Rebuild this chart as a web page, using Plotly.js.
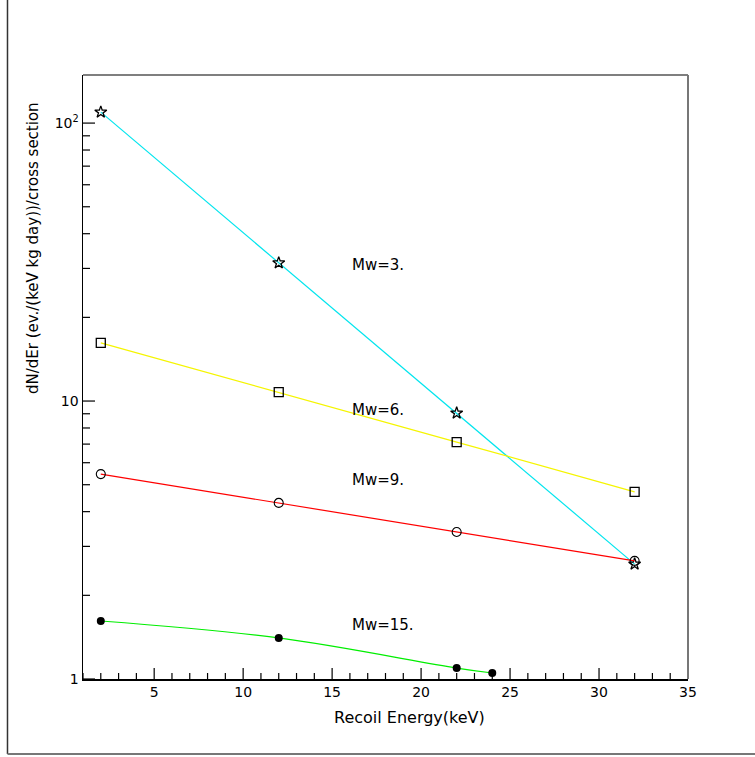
<!DOCTYPE html>
<html>
<head>
<meta charset="utf-8">
<script src="https://cdn.plot.ly/plotly-3.0.1.min.js"></script>
<style>html,body{margin:0;padding:0;background:#fff;}#chart{width:755px;height:757px;}</style>
</head>
<body>
<div id="chart"></div>
<script>
const energy = [2, 12, 22, 32];
const mw3 = [109.5, 31.4, 9.05, 2.59];
const mw6 = [16.2, 10.77, 7.12, 4.71];
const mw9 = [5.46, 4.30, 3.38, 2.66];
const energy15 = [2, 12, 22, 24];
const mw15 = [1.617, 1.405, 1.095, 1.051];
const labels = ["Mw=3.", "Mw=6.", "Mw=9.", "Mw=15."];
const labelX = [16, 16, 16, 16];
const labelY = [30.9, 9.3, 5.2, 1.56];
const xTickVals = [5, 10, 15, 20, 25, 30, 35];
const yTickVals = [1, 10, 100];
const yTickText = ["1", "10", "10<sup>2</sup>"];

const F = "DejaVu Sans, sans-serif";
const X_RANGE = [1, 35];
const Y_LOG_RANGE = [0, 2.173];
const PLOT_W = 755 - 83 - 67, PLOT_H = 757 - 75 - 78;

// inside tick marks built as a line trace (axis decoration, not data)
const tx = [], ty = [];
const dxPerPx = (X_RANGE[1] - X_RANGE[0]) / PLOT_W;
const dlogPerPx = (Y_LOG_RANGE[1] - Y_LOG_RANGE[0]) / PLOT_H;
for (let v = Math.ceil(X_RANGE[0]); v <= X_RANGE[1]; v++) {
  const len = (v % 5 === 0) ? 11 : 6;
  tx.push(v, v, null);
  ty.push(Math.pow(10, Y_LOG_RANGE[0]), Math.pow(10, Y_LOG_RANGE[0] + len * dlogPerPx), null);
}
for (let dec = 1; dec <= 100; dec *= 10) {
  for (let m = 1; m <= 9; m++) {
    const val = dec * m;
    if (Math.log10(val) > Y_LOG_RANGE[1] + 1e-9) continue;
    const len = (m === 1) ? 12 : 7;
    tx.push(X_RANGE[0], X_RANGE[0] + len * dxPerPx, null);
    ty.push(val, val, null);
  }
}

const traces = [
  {x: tx, y: ty, mode: "lines", line: {color: "black", width: 1.2}, hoverinfo: "skip", connectgaps: false},
  {x: energy, y: mw3, mode: "lines+markers", line: {color: "#00e5ee", width: 1.2},
   marker: {symbol: "star-open", size: 9, color: "black", line: {width: 1.3}}},
  {x: energy, y: mw6, mode: "lines+markers", line: {color: "#f5f500", width: 1.2},
   marker: {symbol: "square-open", size: 9, color: "black", line: {width: 1.3}}},
  {x: energy, y: mw9, mode: "lines+markers", line: {color: "#ff0000", width: 1.2},
   marker: {symbol: "circle-open", size: 9, color: "black", line: {width: 1.1}}},
  {x: energy15, y: mw15, mode: "lines+markers", line: {color: "#00ee00", width: 1.2, shape: "spline"},
   marker: {symbol: "circle", size: 8, color: "black"}}
];

const annotations = labels.map((t, i) => ({
  x: labelX[i], y: Math.log10(labelY[i]), xref: "x", yref: "y", text: t,
  showarrow: false, xanchor: "left", yanchor: "middle",
  font: {family: F, size: 15, color: "black"}
}));
annotations.push({
  x: 19.37, y: -0.063, xref: "x", yref: "paper", text: "Recoil Energy(keV)",
  showarrow: false, xanchor: "center", yanchor: "middle",
  font: {family: F, size: 16, color: "black"}
});
annotations.push({
  x: -0.0826, y: 0.7136, xref: "paper", yref: "paper", textangle: -90,
  text: "dN/dEr (ev./(keV kg day))/cross section",
  showarrow: false, xanchor: "center", yanchor: "middle",
  font: {family: F, size: 15, color: "black"}
});

const shapes = [
  {type: "line", xref: "paper", yref: "paper", x0: 0, x1: 1, y0: 1, y1: 1, line: {color: "#555", width: 1.5}},
  {type: "line", xref: "paper", yref: "paper", x0: 1, x1: 1, y0: 0, y1: 1, line: {color: "#777", width: 2}},
  {type: "line", xref: "paper", yref: "paper", x0: -0.1248, x1: -0.1248, y0: -0.1242, y1: 1.13, line: {color: "#333", width: 1.5}},
  {type: "line", xref: "paper", yref: "paper", x0: -0.1248, x1: 1.12, y0: -0.1242, y1: -0.1242, line: {color: "#777", width: 2}}
];

const layout = {
  width: 755, height: 757,
  margin: {l: 83, r: 67, t: 75, b: 78},
  paper_bgcolor: "white", plot_bgcolor: "white",
  showlegend: false,
  font: {family: F, size: 14, color: "black"},
  xaxis: {
    range: X_RANGE, showgrid: false, zeroline: false,
    showline: true, linecolor: "black", linewidth: 1.5,
    tickmode: "array", tickvals: xTickVals, ticks: "",
    tickfont: {family: F, size: 14, color: "black"}
  },
  yaxis: {
    type: "log", range: Y_LOG_RANGE, showgrid: false, zeroline: false,
    showline: true, linecolor: "black", linewidth: 1.5,
    tickmode: "array", tickvals: yTickVals, ticktext: yTickText, ticks: "",
    ticksuffix: "    ",
    tickfont: {family: F, size: 14, color: "black"}
  },
  annotations: annotations,
  shapes: shapes
};

Plotly.newPlot("chart", traces, layout, {displayModeBar: false, staticPlot: true});
</script>
</body>
</html>
